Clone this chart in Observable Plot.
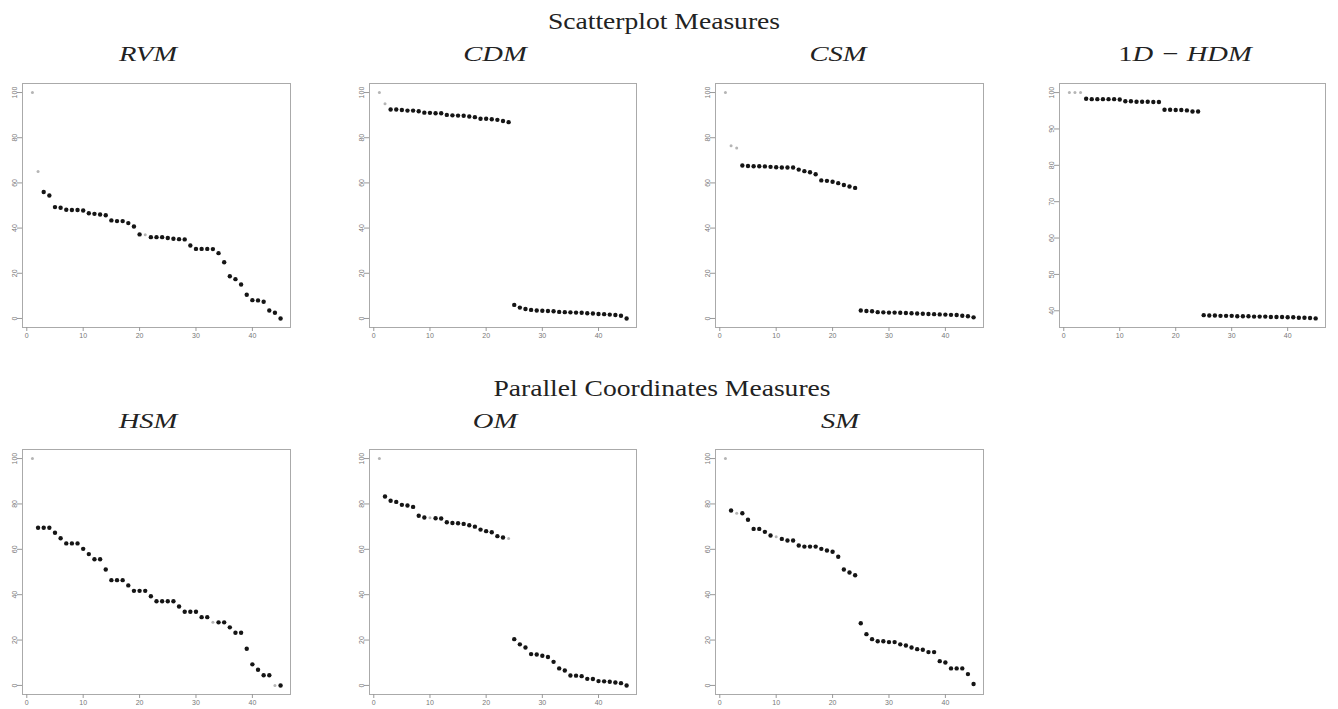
<!DOCTYPE html>
<html>
<head>
<meta charset="utf-8">
<script src="https://cdn.jsdelivr.net/npm/d3@7"></script>
<script src="https://cdn.jsdelivr.net/npm/@observablehq/plot@0.6"></script>
<style>
  html, body { margin: 0; padding: 0; background: #fff; }
  #page { position: relative; width: 1338px; height: 709px; overflow: hidden; background: #fff; }
  .panel { position: absolute; }
  #overlay { position: absolute; left: 0; top: 0; pointer-events: none; }
</style>
</head>
<body>
<div id="page">
  <svg id="overlay" width="1338" height="709"></svg>
</div>
<script>
// ---- data ----
const ranks = [1,2,3,4,5,6,7,8,9,10,11,12,13,14,15,16,17,18,19,20,21,22,23,24,25,26,27,28,29,30,31,32,33,34,35,36,37,38,39,40,41,42,43,44,45];

const rvm = [100,65,56,54.4,49.3,49,48.1,48,48,47.8,46.6,46.3,46,45.7,43.4,43.1,43.1,42.2,40.7,37.2,37,36,36,36,35.6,35.3,35.1,35,32.3,30.8,30.8,30.8,30.7,28.9,24.9,18.7,17.4,15,10.5,8.1,8,7.4,3.5,2.5,0];
const cdm = [100,95,92.5,92.5,92.3,92.0,92.0,91.7,91.1,91.0,90.8,90.8,90.1,89.9,89.8,89.7,89.4,89.1,88.4,88.4,88.2,87.9,87.4,86.9,6,4.8,4.2,3.8,3.5,3.4,3.3,3.2,2.9,2.8,2.7,2.6,2.5,2.3,2.2,2.0,1.9,1.7,1.5,1.2,0];
const csm = [100,76.5,75.4,67.7,67.5,67.4,67.4,67.3,67.1,66.9,66.8,66.8,66.8,65.9,65.2,64.7,63.8,61.1,60.9,60.5,59.9,59.1,58.4,57.8,3.5,3.3,3.2,2.8,2.7,2.6,2.6,2.5,2.4,2.3,2.2,2.1,2.0,1.9,1.8,1.7,1.6,1.5,1.2,1.0,0.5];
const hdm = [100,100,100,98.3,98.2,98.2,98.2,98.2,98.2,98.1,97.6,97.6,97.5,97.5,97.5,97.4,97.4,95.3,95.3,95.2,95.2,95.1,94.8,94.8,38.8,38.7,38.7,38.6,38.6,38.6,38.5,38.5,38.5,38.4,38.4,38.4,38.3,38.3,38.3,38.2,38.2,38.1,38.1,38.0,37.9];
const hsm = [100,69.5,69.5,69.5,67.3,64.9,62.6,62.6,62.6,60.2,57.9,55.6,55.6,51.1,46.4,46.4,46.4,44.1,41.7,41.7,41.7,39.3,37.1,37.1,37.1,37.1,34.8,32.5,32.5,32.5,30.1,30.1,27.9,27.8,27.8,25.6,23.2,23.2,16.2,9.3,6.9,4.5,4.5,0,0];
const om = [100,83.3,81.4,80.9,79.6,79.3,78.7,74.8,74.0,73.9,73.7,73.6,71.9,71.6,71.5,71.2,70.6,70.0,68.7,68.0,67.5,65.8,65.2,64.8,20.4,18.1,16.7,13.8,13.6,13.1,12.5,10.4,7.5,6.6,4.4,4.3,4.1,2.9,2.8,1.9,1.8,1.6,1.3,1.0,0];
const sm = [100,77.1,75.9,75.9,73.0,69.0,69.0,67.7,66.1,65.5,64.6,63.9,63.9,61.7,61.2,61.2,61.2,60.2,59.5,58.9,56.7,51.1,49.8,48.6,27.4,22.6,20.4,19.5,19.5,19.1,19.1,18.1,17.6,16.7,16.0,15.7,14.7,14.7,10.7,10.1,7.5,7.5,7.5,5.0,0.6];

// ranks drawn faint (light grey) in the reference
const faintRvm = [1,2,21];
const faintCdm = [1,2];
const faintCsm = [1,2,3];
const faintHdm = [1,2,3];
const faintHsm = [1,33,44];
const faintOm = [1,10,24];
const faintSm = [1,3,10];

const xTicks = [0,10,20,30,40];
const yTicks = [0,20,40,60,80,100];
const yTicksHdm = [40,50,60,70,80,90,100];

const groupTitles = ["Scatterplot Measures", "Parallel Coordinates Measures"];
const panelNames = ["RVM","CDM","CSM","1D − HDM","HSM","OM","SM"];

// ---- layout ----
const ML = 24, MR = 2, MT = 2, MB = 22;
const panels = [
  {name: panelNames[0], values: rvm, faint: faintRvm, left: 22,  right: 290,  top: 83,  bottom: 327, yDomain: [-4,104], yTicks},
  {name: panelNames[1], values: cdm, faint: faintCdm, left: 369, right: 636,  top: 83,  bottom: 327, yDomain: [-4,104], yTicks},
  {name: panelNames[2], values: csm, faint: faintCsm, left: 715, right: 983,  top: 83,  bottom: 327, yDomain: [-4,104], yTicks},
  {name: panelNames[3], values: hdm, faint: faintHdm, left: 1059,right: 1325, top: 83,  bottom: 327, yDomain: [35.4,102.5], yTicks: yTicksHdm},
  {name: panelNames[4], values: hsm, faint: faintHsm, left: 22,  right: 290,  top: 449, bottom: 694, yDomain: [-4,104], yTicks},
  {name: panelNames[5], values: om,  faint: faintOm,  left: 369, right: 636,  top: 449, bottom: 694, yDomain: [-4,104], yTicks},
  {name: panelNames[6], values: sm,  faint: faintSm,  left: 715, right: 983,  top: 449, bottom: 694, yDomain: [-4,104], yTicks}
];

const page = document.getElementById("page");

for (const p of panels) {
  const data = ranks.map((r, i) => ({rank: r, value: p.values[i], faint: p.faint.includes(r)}));
  const W = (p.right - p.left) + ML + MR;
  const H = (p.bottom - p.top) + MT + MB;
  const chart = Plot.plot({
    width: W,
    height: H,
    marginLeft: ML, marginRight: MR, marginTop: MT, marginBottom: MB,
    x: {domain: [-0.76, 46.76], label: null},
    y: {domain: p.yDomain, label: null},
    style: {background: "transparent", fontFamily: "'Liberation Sans', Arial, sans-serif", color: "#777", overflow: "visible"},
    marks: [
      Plot.frame({stroke: "#aaa", strokeWidth: 1}),
      Plot.axisX({ticks: xTicks, tickSize: 4, tickPadding: 2, fontSize: 7, stroke: "#999", fill: "#777", label: null}),
      Plot.axisY({ticks: p.yTicks, tickSize: 5, tickPadding: 1, tickRotate: -90, fontSize: 7, stroke: "#999", fill: "#777", label: null}),
      Plot.dot(data.filter(d => d.faint), {x: "rank", y: "value", r: 1.5, fill: "#b5b5b5", stroke: "none"}),
      Plot.dot(data.filter(d => !d.faint), {x: "rank", y: "value", r: 2.2, fill: "#151515", stroke: "none"})
    ]
  });
  const div = document.createElement("div");
  div.className = "panel";
  div.style.left = (p.left - ML) + "px";
  div.style.top = (p.top - MT) + "px";
  div.appendChild(chart);
  page.insertBefore(div, document.getElementById("overlay"));
}

// ---- titles ----
const svg = d3.select("#overlay");
const serif = "'Liberation Serif', 'Times New Roman', serif";
function addText(x, y, size, sx, anchor, parts) {
  const t = svg.append("text")
    .attr("transform", `translate(${x},${y}) scale(${sx},1)`)
    .attr("text-anchor", anchor)
    .attr("font-family", serif)
    .attr("font-size", size)
    .attr("fill", "#222");
  for (const [s, it] of parts) {
    t.append("tspan").attr("font-style", it ? "italic" : "normal").text(s);
  }
}
addText(664, 29, 24, 1.15, "middle", [[groupTitles[0], false]]);
addText(662, 396, 24, 1.15, "middle", [[groupTitles[1], false]]);

const titleCenters = [
  [148, 61], [495, 61], [838, 61], [1185, 61],
  [148, 428], [495, 428], [840, 428]
];
panelNames.forEach((n, i) => {
  const [cx, cy] = titleCenters[i];
  if (n.startsWith("1D")) {
    addText(cx, cy, 22, 1.3, "middle", [["1", false], [n.slice(1), true]]);
  } else {
    addText(cx, cy, 22, 1.3, "middle", [[n, true]]);
  }
});
</script>
</body>
</html>
